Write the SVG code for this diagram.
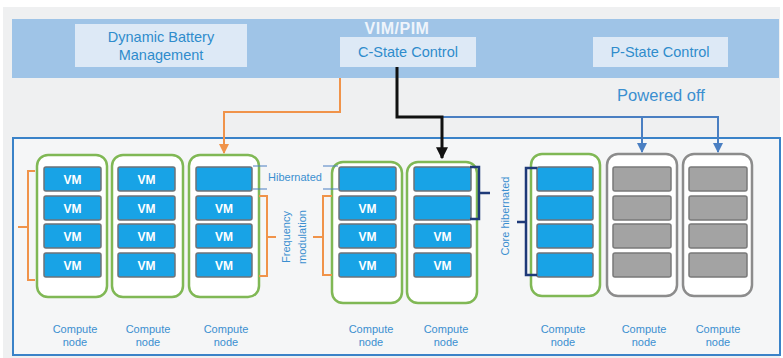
<svg xmlns="http://www.w3.org/2000/svg" width="783" height="358" viewBox="0 0 783 358">
<defs>
<style>
text{font-family:"Liberation Sans",Arial,sans-serif}
.ctl{fill:#dde9f6}
.ctlt{fill:#2f8ccc;font-size:14.5px;text-anchor:middle}
.node{fill:#ffffff;stroke:#80b855;stroke-width:2.5}
.off{fill:#ffffff;stroke:#8c8c8c;stroke-width:2.5}
.vm{fill:#18a3e6;stroke:#6e7378;stroke-width:1.5}
.gvm{fill:#a3a3a3;stroke:#7a7a7a;stroke-width:1.5}
.vmt{fill:#ffffff;font-size:12px;text-anchor:middle;font-weight:bold}
.lbl{fill:#3b8fd0;font-size:11px;text-anchor:middle}
.br-o{fill:none;stroke:#f0934a;stroke-width:2}
.br-n{fill:none;stroke:#1e3a78;stroke-width:2.5}
</style>
<marker id="ao" viewBox="0 0 10 10" refX="9" refY="5" markerWidth="5" markerHeight="5" orient="auto"><path d="M0,0L10,5L0,10z" fill="#f0934a"/></marker>
<marker id="ak" viewBox="0 0 10 10" refX="9" refY="5" markerWidth="4" markerHeight="4" orient="auto"><path d="M0,0L10,5L0,10z" fill="#111"/></marker>
<marker id="ab" viewBox="0 0 10 10" refX="9" refY="5" markerWidth="5" markerHeight="5" orient="auto"><path d="M0,0L10,5L0,10z" fill="#4a7fc2"/></marker>
</defs>
<rect x="0" y="0" width="783" height="358" fill="#ffffff"/>
<rect x="3" y="7" width="777" height="351" fill="#eff0f1"/>
<g id="vimpim">
<rect x="12" y="19" width="767" height="59" fill="#9fc4e7"/>
<text x="397" y="34" fill="#eef4fb" font-size="16" font-weight="bold" text-anchor="middle" letter-spacing="0.5">VIM/PIM</text>
</g>
<g id="dbm">
<rect class="ctl" x="75" y="24" width="172" height="43"/>
<text class="ctlt" x="161" y="42">Dynamic Battery</text>
<text class="ctlt" x="161" y="60">Management</text>
</g>
<g id="cstate">
<rect class="ctl" x="340" y="37" width="136" height="30"/>
<text class="ctlt" x="408" y="57">C-State Control</text>
</g>
<g id="pstate">
<rect class="ctl" x="593" y="37" width="135" height="30"/>
<text class="ctlt" x="660" y="57">P-State Control</text>
</g>
<text x="661" y="101" fill="#3b8fd0" font-size="16.5" text-anchor="middle">Powered off</text>
<g id="cluster">
<rect x="13" y="138" width="767" height="217" fill="#f5f6f7" stroke="#3a82c8" stroke-width="2"/>
</g>
<g id="node1">
<rect class="node" x="37" y="155" width="70" height="142" rx="11"/>
<rect class="vm" x="44" y="167" width="57" height="24" rx="2"/><text class="vmt" x="72.5" y="183.5">VM</text>
<rect class="vm" x="44" y="196" width="57" height="24" rx="2"/><text class="vmt" x="72.5" y="212.5">VM</text>
<rect class="vm" x="44" y="224" width="57" height="24" rx="2"/><text class="vmt" x="72.5" y="240.5">VM</text>
<rect class="vm" x="44" y="253" width="57" height="24" rx="2"/><text class="vmt" x="72.5" y="269.5">VM</text>
<text class="lbl" x="75" y="333">Compute</text><text class="lbl" x="75" y="346">node</text>
</g>
<g id="node2">
<rect class="node" x="112" y="155" width="71" height="142" rx="11"/>
<rect class="vm" x="118" y="167" width="57" height="24" rx="2"/><text class="vmt" x="146.5" y="183.5">VM</text>
<rect class="vm" x="118" y="196" width="57" height="24" rx="2"/><text class="vmt" x="146.5" y="212.5">VM</text>
<rect class="vm" x="118" y="224" width="57" height="24" rx="2"/><text class="vmt" x="146.5" y="240.5">VM</text>
<rect class="vm" x="118" y="253" width="57" height="24" rx="2"/><text class="vmt" x="146.5" y="269.5">VM</text>
<text class="lbl" x="148" y="333">Compute</text><text class="lbl" x="148" y="346">node</text>
</g>
<g id="node3">
<rect class="node" x="189" y="155" width="70" height="142" rx="11"/>
<rect class="vm" x="196" y="167" width="56" height="24" rx="2"/>
<rect class="vm" x="196" y="196" width="56" height="24" rx="2"/><text class="vmt" x="224" y="212.5">VM</text>
<rect class="vm" x="196" y="224" width="56" height="24" rx="2"/><text class="vmt" x="224" y="240.5">VM</text>
<rect class="vm" x="196" y="253" width="56" height="24" rx="2"/><text class="vmt" x="224" y="269.5">VM</text>
<text class="lbl" x="226" y="333">Compute</text><text class="lbl" x="226" y="346">node</text>
</g>
<g id="node4">
<rect class="node" x="332" y="162" width="70" height="141" rx="11"/>
<rect class="vm" x="339" y="167" width="57" height="24" rx="2"/>
<rect class="vm" x="339" y="196" width="57" height="24" rx="2"/><text class="vmt" x="367.5" y="212.5">VM</text>
<rect class="vm" x="339" y="224" width="57" height="24" rx="2"/><text class="vmt" x="367.5" y="240.5">VM</text>
<rect class="vm" x="339" y="253" width="57" height="24" rx="2"/><text class="vmt" x="367.5" y="269.5">VM</text>
<text class="lbl" x="371" y="333">Compute</text><text class="lbl" x="371" y="346">node</text>
</g>
<g id="node5">
<rect class="node" x="407" y="162" width="70" height="141" rx="11"/>
<rect class="vm" x="414" y="167" width="57" height="24" rx="2"/>
<rect class="vm" x="414" y="196" width="57" height="24" rx="2"/>
<rect class="vm" x="414" y="224" width="57" height="24" rx="2"/><text class="vmt" x="442.5" y="240.5">VM</text>
<rect class="vm" x="414" y="253" width="57" height="24" rx="2"/><text class="vmt" x="442.5" y="269.5">VM</text>
<text class="lbl" x="446" y="333">Compute</text><text class="lbl" x="446" y="346">node</text>
</g>
<g id="node6">
<rect class="node" x="531" y="154" width="69" height="142" rx="11"/>
<rect class="vm" x="537" y="167" width="56" height="24" rx="2"/>
<rect class="vm" x="537" y="196" width="56" height="24" rx="2"/>
<rect class="vm" x="537" y="224" width="56" height="24" rx="2"/>
<rect class="vm" x="537" y="253" width="56" height="24" rx="2"/>
<text class="lbl" x="563" y="333">Compute</text><text class="lbl" x="563" y="346">node</text>
</g>
<g id="node7">
<rect class="off" x="607" y="154" width="70" height="142" rx="11"/>
<rect class="gvm" x="613" y="167" width="58" height="24" rx="2"/>
<rect class="gvm" x="613" y="196" width="58" height="24" rx="2"/>
<rect class="gvm" x="613" y="224" width="58" height="24" rx="2"/>
<rect class="gvm" x="613" y="253" width="58" height="24" rx="2"/>
<text class="lbl" x="644" y="333">Compute</text><text class="lbl" x="644" y="346">node</text>
</g>
<g id="node8">
<rect class="off" x="683" y="154" width="69" height="142" rx="11"/>
<rect class="gvm" x="689" y="167" width="58" height="24" rx="2"/>
<rect class="gvm" x="689" y="196" width="58" height="24" rx="2"/>
<rect class="gvm" x="689" y="224" width="58" height="24" rx="2"/>
<rect class="gvm" x="689" y="253" width="58" height="24" rx="2"/>
<text class="lbl" x="718" y="333">Compute</text><text class="lbl" x="718" y="346">node</text>
</g>
<g id="annotations">
<path class="br-o" d="M35,171H28V280H35M28,227H18"/>
<path class="br-o" d="M259,196H267V276H259M267,237H276"/>
<path class="br-o" d="M332,196H323V275H332M323,237H313"/>
<text class="lbl" transform="translate(290,237) rotate(-90)">Frequency</text>
<text class="lbl" transform="translate(306,237) rotate(-90)">modulation</text>
<path d="M253,166H267M253,189H267M323,166H338M323,189H338" stroke="#4a7fc2" stroke-width="1" fill="none"/>
<text class="lbl" x="295" y="181">Hibernated</text>
<path class="br-n" d="M470,167H479V219H470M479,193H490"/>
<path class="br-n" d="M537,168H526V275H537M526,222H517"/>
<text class="lbl" transform="translate(509,216) rotate(-90)">Core hibernated</text>
</g>
<g id="connectors" fill="none">
<path d="M340,78V112H224V153" stroke="#f0934a" stroke-width="2" marker-end="url(#ao)"/>
<path d="M442,117H718V152M642,117V152" stroke="#4a7fc2" stroke-width="2"/>
<path d="M642,140V152" stroke="#4a7fc2" stroke-width="2" marker-end="url(#ab)"/>
<path d="M718,140V152" stroke="#4a7fc2" stroke-width="2" marker-end="url(#ab)"/>
<path d="M397,67V117H442V158" stroke="#111" stroke-width="3" marker-end="url(#ak)"/>
</g>
</svg>
